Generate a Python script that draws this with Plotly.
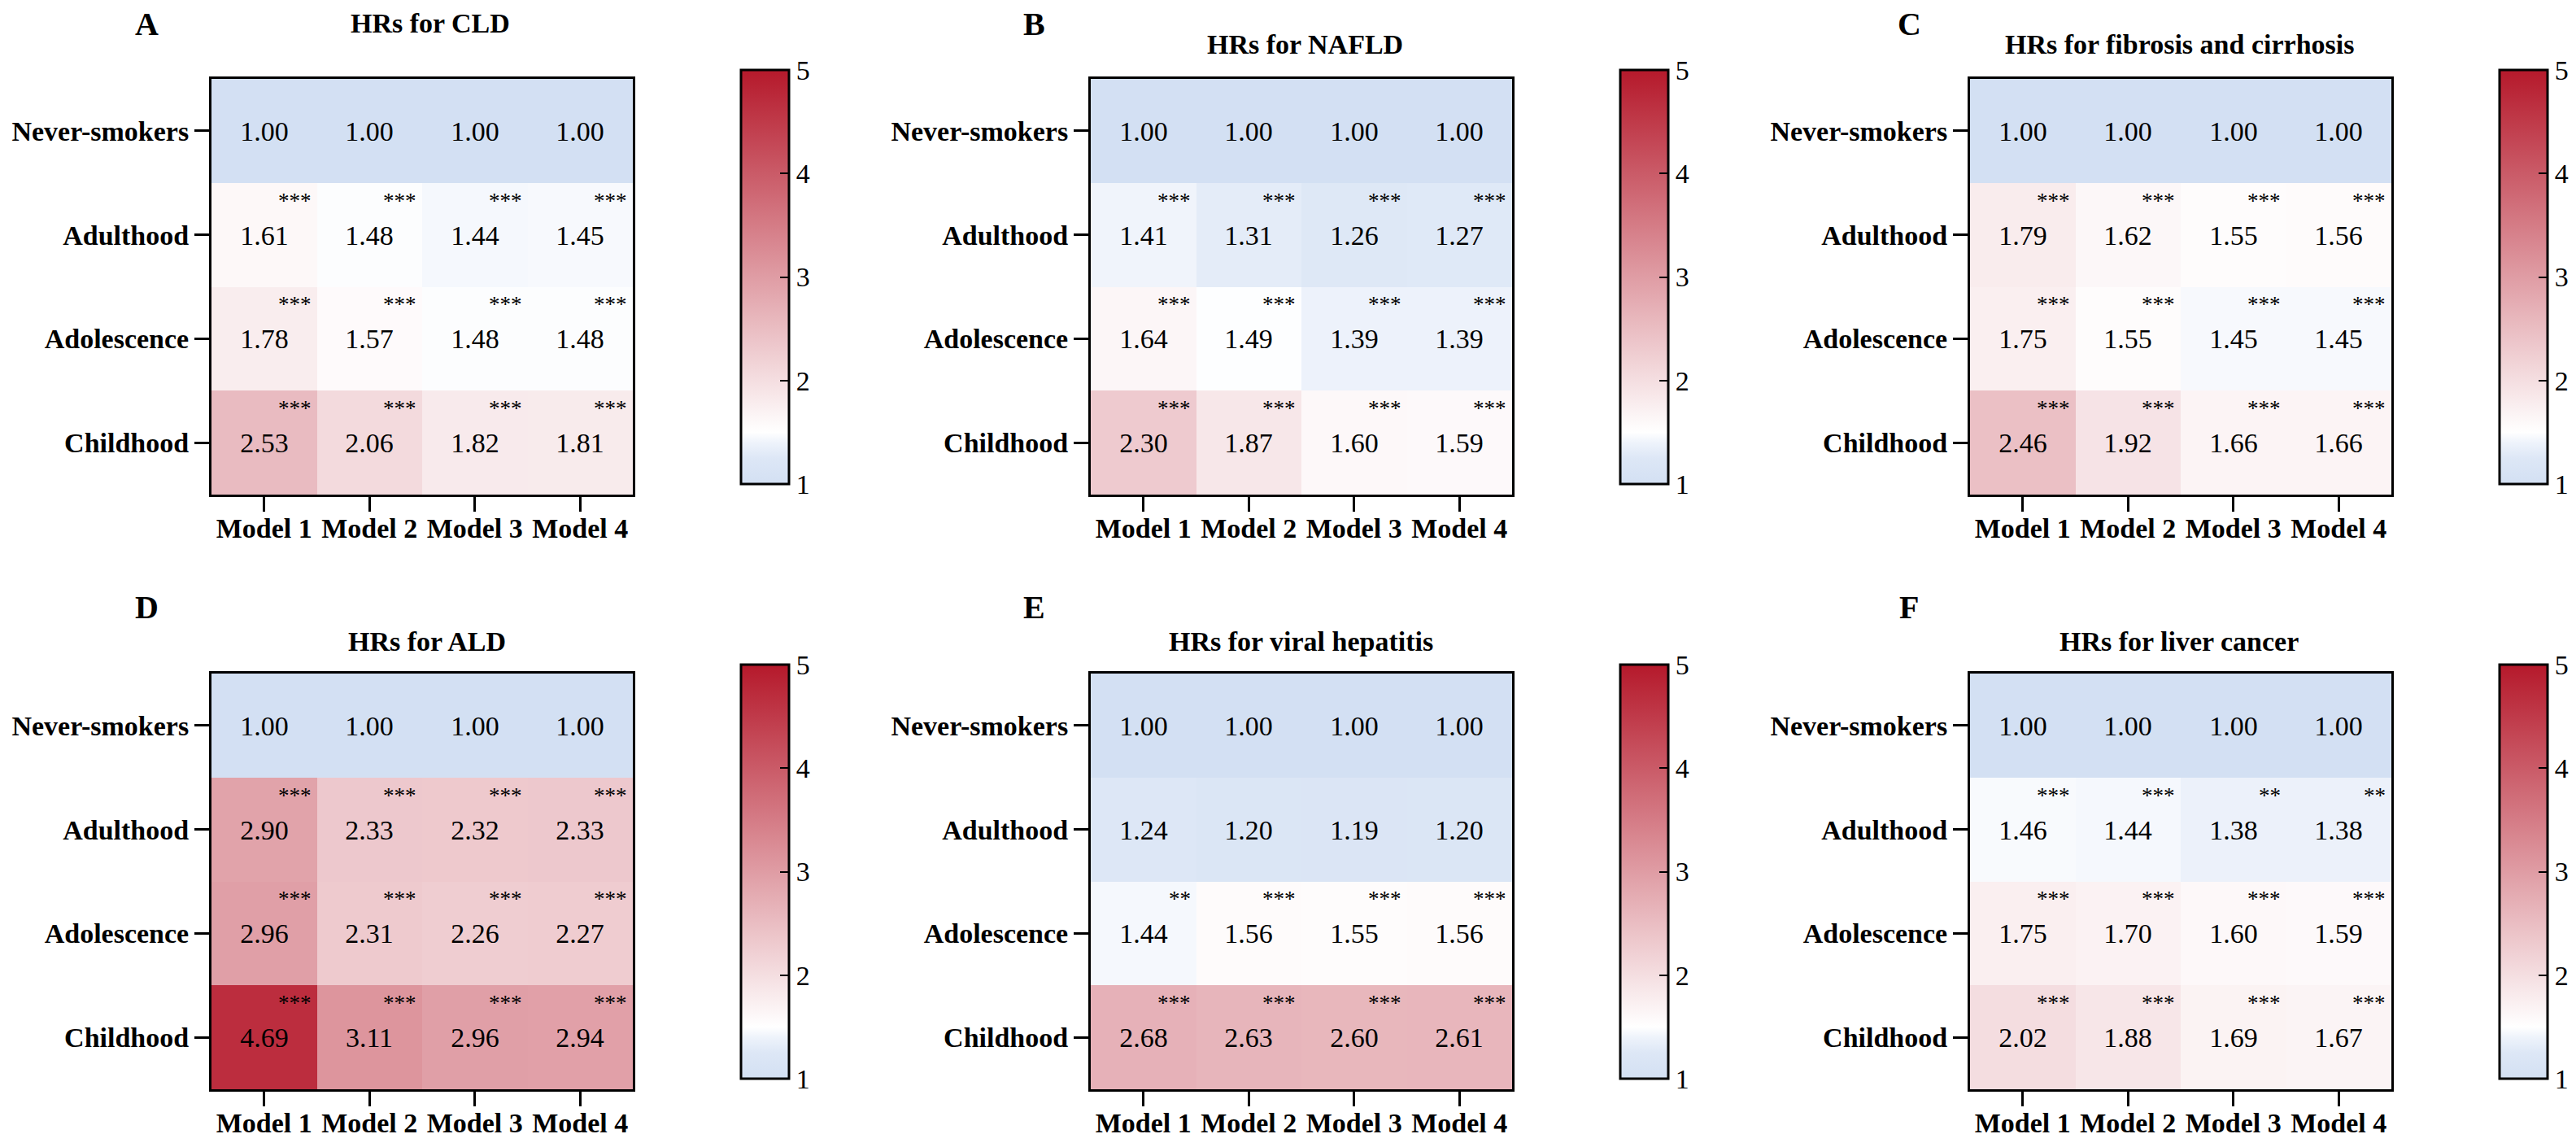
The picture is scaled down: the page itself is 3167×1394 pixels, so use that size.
import plotly.graph_objects as go

W, H = 3167, 1394
FONT = "Liberation Serif"

models = ["Model 1", "Model 2", "Model 3", "Model 4"]
groups = ["Never-smokers", "Adulthood", "Adolescence", "Childhood"]

letters = ["A", "B", "C", "D", "E", "F"]
titles = ["HRs for CLD", "HRs for NAFLD", "HRs for fibrosis and cirrhosis",
          "HRs for ALD", "HRs for viral hepatitis", "HRs for liver cancer"]

# hazard ratios, rows = groups, cols = models
hr_cld = [[1.00, 1.00, 1.00, 1.00],
          [1.61, 1.48, 1.44, 1.45],
          [1.78, 1.57, 1.48, 1.48],
          [2.53, 2.06, 1.82, 1.81]]
hr_nafld = [[1.00, 1.00, 1.00, 1.00],
            [1.41, 1.31, 1.26, 1.27],
            [1.64, 1.49, 1.39, 1.39],
            [2.30, 1.87, 1.60, 1.59]]
hr_fibrosis = [[1.00, 1.00, 1.00, 1.00],
               [1.79, 1.62, 1.55, 1.56],
               [1.75, 1.55, 1.45, 1.45],
               [2.46, 1.92, 1.66, 1.66]]
hr_ald = [[1.00, 1.00, 1.00, 1.00],
          [2.90, 2.33, 2.32, 2.33],
          [2.96, 2.31, 2.26, 2.27],
          [4.69, 3.11, 2.96, 2.94]]
hr_viral = [[1.00, 1.00, 1.00, 1.00],
            [1.24, 1.20, 1.19, 1.20],
            [1.44, 1.56, 1.55, 1.56],
            [2.68, 2.63, 2.60, 2.61]]
hr_cancer = [[1.00, 1.00, 1.00, 1.00],
             [1.46, 1.44, 1.38, 1.38],
             [1.75, 1.70, 1.60, 1.59],
             [2.02, 1.88, 1.69, 1.67]]

s3 = ["***"] * 4
stars_cld = [["", "", "", ""], s3, s3, s3]
stars_nafld = [["", "", "", ""], s3, s3, s3]
stars_fibrosis = [["", "", "", ""], s3, s3, s3]
stars_ald = [["", "", "", ""], s3, s3, s3]
stars_viral = [["", "", "", ""], ["", "", "", ""], ["**", "***", "***", "***"], s3]
stars_cancer = [["", "", "", ""], ["***", "***", "**", "**"], s3, s3]

hrs = [hr_cld, hr_nafld, hr_fibrosis, hr_ald, hr_viral, hr_cancer]
stars = [stars_cld, stars_nafld, stars_fibrosis, stars_ald, stars_viral, stars_cancer]

colorscale = [[0.0, "#d3e0f3"], [0.0625, "#dde7f6"], [0.1, "#eef3fb"],
              [0.125, "#ffffff"], [1.0, "#b5192b"]]

# layout in pixels
hm_left = [252, 1333, 2414]
hm_top = [89, 820]
hm_w, hm_h = 518, 511
cb_left = [903, 1984, 3065]
cb_top = [78, 809]
cb_w, cb_len = 59, 509
title_x = [521, 1596, 2671, 517, 1592, 2671]
title_y = [20, 47, 47, 780, 780, 780]
letter_x = [172, 1263, 2339, 172, 1263, 2339]
letter_y = [22, 22, 22, 738, 738, 738]

fig = go.Figure()
layout = {}
annotations = []

for i in range(6):
    n = i + 1
    r, c = divmod(i, 3)
    sfx = "" if n == 1 else str(n)
    fig.add_trace(go.Heatmap(
        z=hrs[i], x=models, y=groups,
        coloraxis="coloraxis" + sfx,
        xaxis="x" + sfx, yaxis="y" + sfx,
        texttemplate="%{z:.2f}",
        textfont=dict(family=FONT, size=34, color="black"),
        hoverinfo="skip"))

    x0 = hm_left[c] / W
    x1 = (hm_left[c] + hm_w) / W
    y0 = 1 - (hm_top[r] + hm_h) / H
    y1 = 1 - hm_top[r] / H
    axis_style = dict(showline=True, linewidth=3, linecolor="black", mirror=True,
                      ticks="outside", ticklen=18, tickwidth=3, tickcolor="black",
                      showgrid=False, zeroline=False,
                      tickfont=dict(family=FONT, size=34, color="black", weight="bold"))
    layout["xaxis" + sfx] = dict(domain=[x0, x1], anchor="y" + sfx,
                                 ticklabelstandoff=-9, **axis_style)
    layout["yaxis" + sfx] = dict(domain=[y0, y1], anchor="x" + sfx,
                                 autorange="reversed", **axis_style)
    layout["coloraxis" + sfx] = dict(
        colorscale=colorscale, cmin=1, cmax=5,
        colorbar=dict(x=cb_left[c] / W, xanchor="left",
                      y=1 - (cb_top[r] + cb_len / 2) / H, yanchor="middle",
                      len=cb_len, lenmode="pixels",
                      thickness=cb_w, thicknessmode="pixels",
                      outlinewidth=3, outlinecolor="black",
                      tickvals=[1, 2, 3, 4, 5], ticks="inside", ticklen=12,
                      tickwidth=2, tickcolor="black", xpad=0, ypad=0,
                      tickfont=dict(family=FONT, size=34, color="black")))

    # significance stars in upper-right of each cell
    for gi, g in enumerate(groups):
        for mi, m in enumerate(models):
            s = stars[i][gi][mi]
            if s:
                annotations.append(dict(
                    x=m, y=g, xref="x" + sfx, yref="y" + sfx, text=s,
                    showarrow=False, xanchor="right", yanchor="middle",
                    xshift=60, yshift=42,
                    font=dict(family=FONT, size=27, color="black")))

    annotations.append(dict(x=title_x[i] / W, y=1 - title_y[i] / H, xref="paper", yref="paper",
                            text=titles[i], showarrow=False, xanchor="center", yanchor="middle",
                            font=dict(family=FONT, size=34, color="black", weight="bold")))
    annotations.append(dict(x=letter_x[i] / W, y=1 - letter_y[i] / H, xref="paper", yref="paper",
                            text=letters[i], showarrow=False, xanchor="center", yanchor="middle",
                            font=dict(family=FONT, size=40, color="black", weight="bold")))

fig.update_layout(**layout)
fig.update_layout(width=W, height=H, margin=dict(l=0, r=0, t=0, b=0),
                  paper_bgcolor="white", plot_bgcolor="white",
                  font=dict(family=FONT, color="black"),
                  annotations=annotations, showlegend=False)

fig.write_html("out.html")
